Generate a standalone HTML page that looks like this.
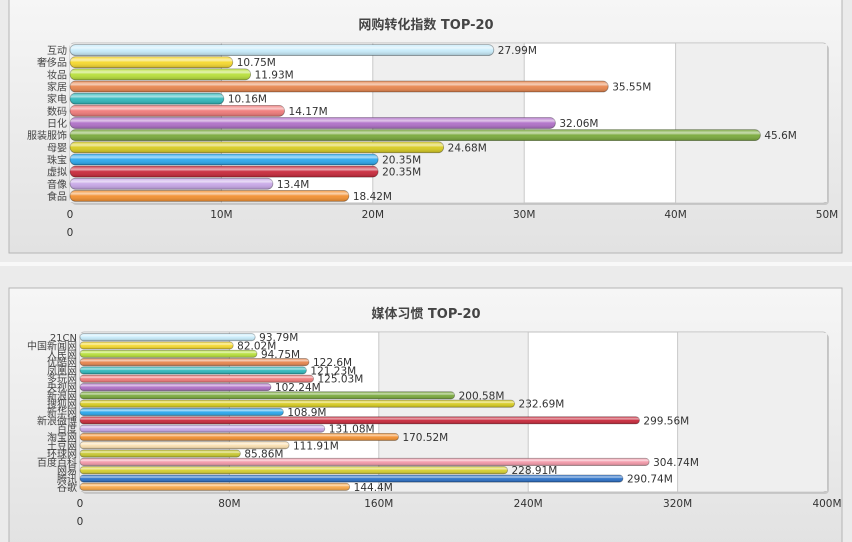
<!DOCTYPE html>
<html><head><meta charset="utf-8">
<style>
body{margin:0;width:852px;height:542px;overflow:hidden;background:#ececec;font-family:"DejaVu Sans","Noto Sans CJK SC",sans-serif;}
svg{display:block}
</style></head>
<body>
<svg id="svg" width="852" height="542" xmlns="http://www.w3.org/2000/svg">
<defs>
<linearGradient id="pg" x1="0" y1="0" x2="0" y2="1"><stop offset="0" stop-color="#f6f6f6"/><stop offset="1" stop-color="#e2e2e2"/></linearGradient>
<linearGradient id="gloss" x1="0" y1="0" x2="0" y2="1"><stop offset="0" stop-color="#fff" stop-opacity="0.1"/><stop offset="0.3" stop-color="#fff" stop-opacity="0.6"/><stop offset="0.5" stop-color="#fff" stop-opacity="0.05"/><stop offset="1" stop-color="#000" stop-opacity="0.2"/></linearGradient>
</defs>
<rect x="0" y="0" width="852" height="542" fill="#ebebeb"/>
<rect x="9" y="-2" width="833" height="255" fill="url(#pg)" stroke="#b5b5b5"/>
<rect x="0" y="262" width="852" height="4" fill="#f8f8f8"/>
<rect x="9" y="288" width="833" height="260" fill="url(#pg)" stroke="#b5b5b5"/>
<g id="c1"></g><g id="c2"></g>
</svg>
<script>
const cats1=["互动","奢侈品","妆品","家居","家电","数码","日化","服装服饰","母婴","珠宝","虚拟","音像","食品"];
const vals1=[27.99,10.75,11.93,35.55,10.16,14.17,32.06,45.6,24.68,20.35,20.35,13.4,18.42];
const ticks1=[0,10,20,30,40,50];
const cats2=["21CN","中国新闻网","人民网","优酷网","凤凰网","多玩网","央视网","新浪网","搜狐网","新华网","新浪微博","百度","淘宝网","土豆网","环球网","百度百科","网易","腾讯","谷歌"];
const vals2=[93.79,82.02,94.75,122.6,121.23,125.03,102.24,200.58,232.69,108.9,299.56,131.08,170.52,111.91,85.86,304.74,228.91,290.74,144.4];
const ticks2=[0,80,160,240,320,400];
const colors=["#c8ecfb","#f7d92e","#b8e03a","#e8864e","#2fb8bc","#f07a7a","#b070c8","#7aaa3c","#d8cc20","#2aa8ee","#c8283a","#c8a8e8","#f39030","#fbe0b0","#c8c830","#f49aaa","#d8d030","#2a70c8","#f8a848"];
const ns="http://www.w3.org/2000/svg";
function mk(p,t,a){const e=document.createElementNS(ns,t);for(const k in a)e.setAttribute(k,a[k]);p.appendChild(e);return e;}
function draw(gid,title,cats,vals,ticks,cfg){
 const g=document.getElementById(gid);
 const x0=cfg.x0,x1=827,y0=cfg.y0,y1=cfg.y1,max=ticks[ticks.length-1];
 const sx=v=>x0+(x1-x0)*v/max;
 const t=mk(g,"text",{x:426,y:cfg.ty,"text-anchor":"middle","font-size":13,"font-weight":"bold",fill:"#444"});t.textContent=title;
 
 
 mk(g,"rect",{x:x0+2,y:y0+2,width:x1-x0,height:y1-y0,fill:"#c8c8c8",rx:4});
 const pa=mk(g,"rect",{x:x0,y:y0,width:x1-x0,height:y1-y0,fill:"#fff",stroke:"#c0c0c0",rx:4});
 
 
 for(let i=0;i<ticks.length-1;i++){
  if(i%2==0) mk(g,"rect",{x:sx(ticks[i]),y:y0+1,width:sx(ticks[i+1])-sx(ticks[i]),height:y1-y0-2,fill:"#efefef"});
  if(i>0) mk(g,"line",{x1:sx(ticks[i]),x2:sx(ticks[i]),y1:y0,y2:y1,stroke:"#c8c8c8"});
 }
 ticks.forEach(v=>{const e=mk(g,"text",{x:sx(v),y:y1+15,"text-anchor":"middle","font-size":10.5,fill:"#333"});e.textContent=v+(v?"M":"");
  
  });
 const z=mk(g,"text",{x:x0,y:y1+33,"text-anchor":"middle","font-size":10.5,fill:"#333"});z.textContent="0";
 const n=cats.length,bh=(y1-y0-2)/n;
 cats.forEach((c,i)=>{
  const yc=y0+1+bh*(i+0.5),h=bh-1.2,w=sx(vals[i])-x0;
  const l=mk(g,"text",{x:x0-3,y:yc+4,"text-anchor":"end","font-size":cfg.lf,fill:"#444"});l.textContent=c;
  
  
  const b=mk(g,"rect",{x:x0,y:yc-h/2,width:w,height:h,rx:h/2,fill:colors[i%colors.length],stroke:"rgba(0,0,0,0.35)","stroke-width":0.8});
  
  
  mk(g,"rect",{x:x0,y:yc-h/2,width:w,height:h,rx:h/2,fill:"url(#gloss)"});
  const v=mk(g,"text",{x:sx(vals[i])+4,y:yc+4,"font-size":10.5,fill:"#333"});v.textContent=vals[i]+"M";
  
  
 });
}
draw("c1","网购转化指数 TOP-20",cats1,vals1,ticks1,{x0:70,y0:43,y1:203,ty:29,lf:10});
draw("c2","媒体习惯 TOP-20",cats2,vals2,ticks2,{x0:80,y0:332,y1:492,ty:318,lf:10});
</script>
</body></html>
